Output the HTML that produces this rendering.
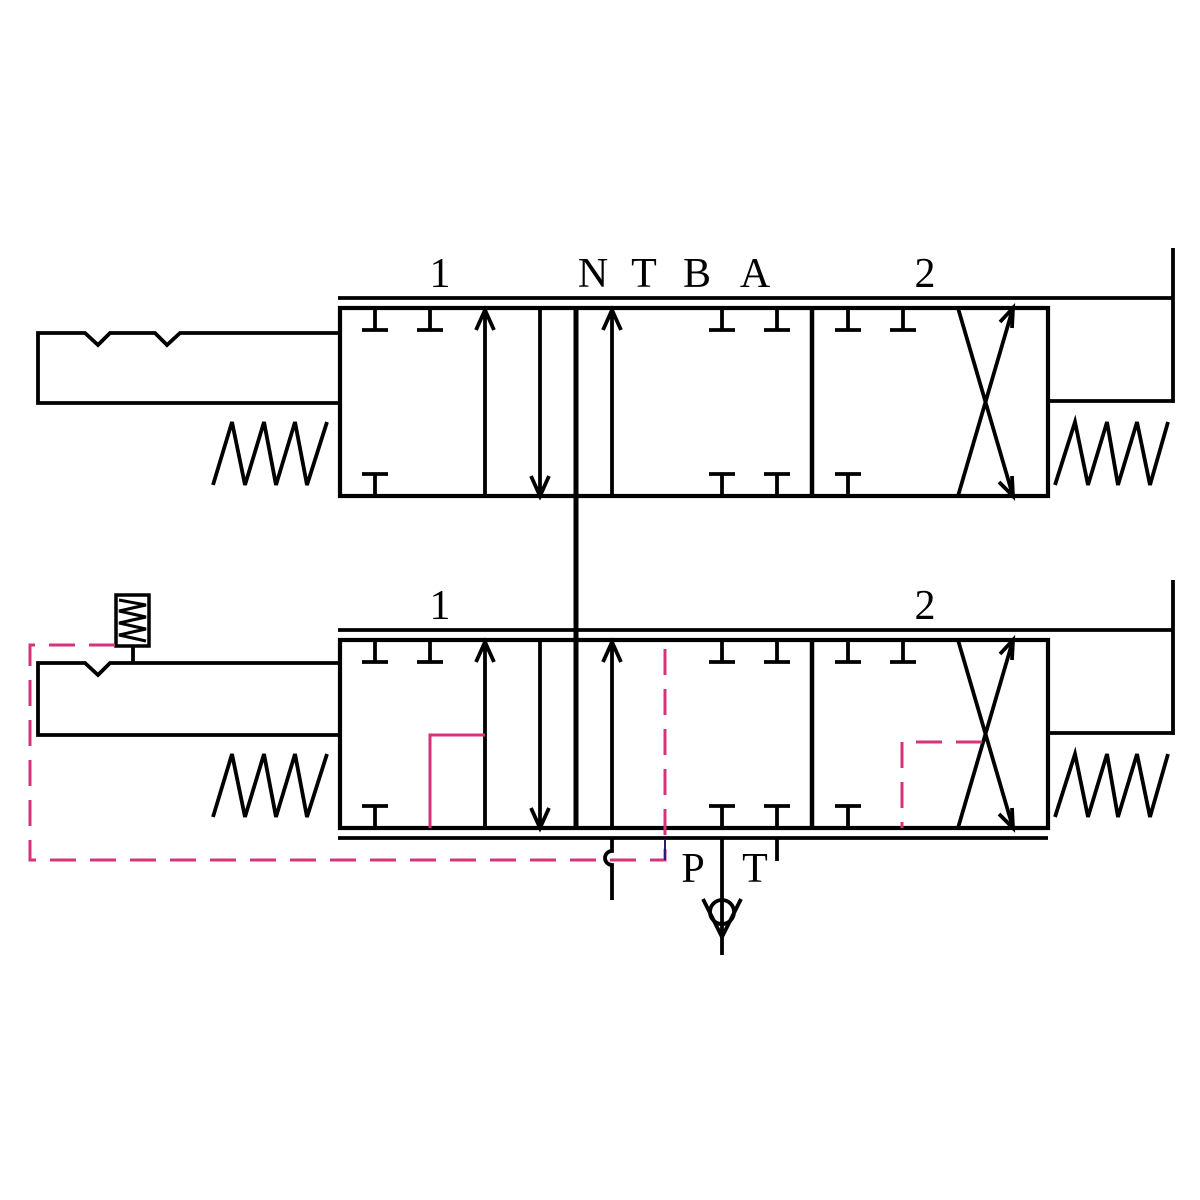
<!DOCTYPE html>
<html><head><meta charset="utf-8"><style>body{margin:0;background:#fff}svg{display:block}</style></head>
<body>
<svg width="1200" height="1200" viewBox="0 0 1200 1200" xmlns="http://www.w3.org/2000/svg">
<defs>
<g id="valve" stroke="#000" fill="none" stroke-width="3.8">
  <line x1="338" y1="298" x2="1173" y2="298"/>
  <line x1="1173" y1="248" x2="1173" y2="403"/>
  <line x1="1048" y1="401" x2="1173" y2="401"/>
  <rect x="340" y="308" width="708" height="188" stroke-width="4.2"/>
  <line x1="576" y1="308" x2="576" y2="496" stroke-width="5"/>
  <line x1="812" y1="308" x2="812" y2="496" stroke-width="4.5"/>
  <path d="M375 310V330M362 330H388 M430 310V330M417 330H443 M375 494V474M362 474H388"/>
  <path d="M722 310V330M709 330H735 M777 310V330M764 330H790 M722 494V474M709 474H735 M777 494V474M764 474H790"/>
  <path d="M848 310V330M835 330H861 M903 310V330M890 330H916 M848 494V474M835 474H861"/>
  <path d="M485 496V310 M476 330L485 310L494 330"/>
  <path d="M540 310V496 M531 476L540 496L549 476"/>
  <path d="M612 496V310 M603 330L612 310L621 330"/>
  <path d="M958 308L1013 496 M958 496L1013 308 M1000 322L1013 308L1012 328 M999 482L1013 496L1012 476"/>
  <polyline points="213,485 232,422 245,485 264,422 276,485 295,422 307,485 327,422"/>
  <polyline points="1055,485 1075,422 1088,485 1107,422 1118,485 1137,422 1150,485 1168,422"/>
</g>
</defs>
<use href="#valve"/>
<use href="#valve" transform="translate(0,332)"/>
<g stroke="#000" fill="none" stroke-width="3.8">
  <line x1="338" y1="838" x2="1048" y2="838"/>
  <path d="M338 333H180L167 345L155 333H110L98 345L85 333H38V403H338"/>
  <path d="M338 663H110L98 675L85 663H38V735H338"/>
  <rect x="116" y="595" width="33" height="51" stroke-width="3.5"/>
  <polyline points="119,600 146,605 119,611 146,617 119,623 146,629 119,635 146,641" stroke-width="3"/>
  <line x1="133" y1="646" x2="133" y2="663"/>
  <line x1="576" y1="496" x2="576" y2="640" stroke-width="5"/>
  <path d="M612 838V851A7 7 0 0 0 612 865V900"/>
  <line x1="722" y1="838" x2="722" y2="955"/>
  <circle cx="722" cy="912" r="12"/>
  <path d="M703 899L722 937L741 899"/>
  <line x1="777" y1="838" x2="777" y2="861"/>
</g>
<g stroke="#d6337a" fill="none" stroke-width="3">
  <path d="M115 645H30V860H665V640" stroke-dasharray="26 14"/>
  <path d="M485 735H430V828"/>
  <path d="M982 742H902V828" stroke-dasharray="26 14"/>
</g>
<line x1="665" y1="840" x2="665" y2="860" stroke="#2a1a7a" stroke-width="2"/>
<g font-family="Liberation Serif, serif" font-size="42" fill="#000" text-anchor="middle">
  <text x="440" y="287">1</text>
  <text x="593" y="287">N</text>
  <text x="644" y="287">T</text>
  <text x="697" y="287">B</text>
  <text x="755" y="287">A</text>
  <text x="925" y="287">2</text>
  <text x="440" y="619">1</text>
  <text x="925" y="619">2</text>
  <text x="693" y="882">P</text>
  <text x="755" y="882">T</text>
</g>
</svg>
</body></html>
